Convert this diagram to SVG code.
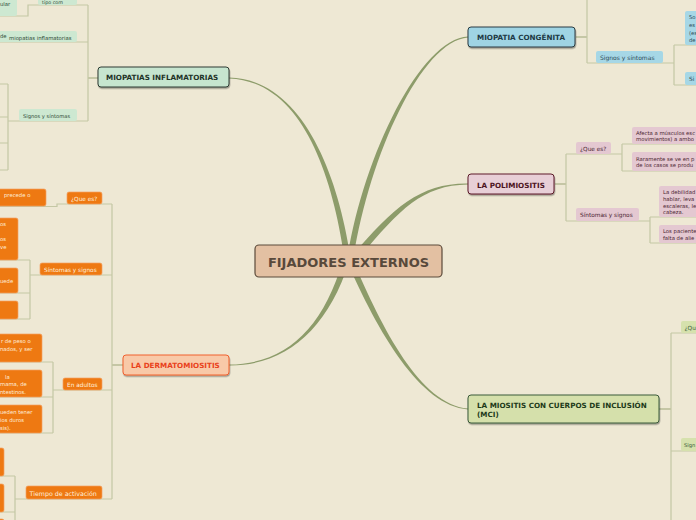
<svg xmlns="http://www.w3.org/2000/svg" width="696" height="520" viewBox="0 0 696 520">
<defs>
<filter id="sh" x="-10%" y="-30%" width="120%" height="180%"><feDropShadow dx="0.6" dy="1.4" stdDeviation="0.5" flood-color="#000" flood-opacity="0.35"/></filter>
<style>
text{font-family:"DejaVu Sans",Verdana,sans-serif}
.main{font-size:7.2px;font-weight:bold}
.sub{font-size:5.8px}
.leaf{font-size:5.3px}
.ln{fill:none;stroke:#c4c7a4;stroke-width:1.2}
.tr{fill:none;stroke:#aab086;stroke-width:1.2}
.br{fill:#8d9c6a}
.gS{fill:#cde8d1}.gT{fill:#2e4a36}
.oS{fill:#ee7912;stroke:#f3a062;stroke-width:0.7}.oT{fill:#fff0de}
.bS{fill:#a6d7e6}.bT{fill:#2c4955}
.pS{fill:#e4c8d1}.pT{fill:#4a2430}
.mS{fill:#d6e1ad}.mT{fill:#3a5a36}
</style>
</defs>
<rect width="696" height="520" fill="#eee8d4"/>
<g id="connectors">
<path class="br" d="M351,261 C338,170 300,79 229,77.6 L229,78.4 C300,81 332,170 345,261 Z"/>
<path class="br" d="M353,261 C368,160 420.5,41 468,37.4 L468,36.6 C419.5,39 362,160 347,261 Z"/>
<path class="br" d="M354.5,263 C397.5,212 420,185 468,184.4 L468,183.6 C420,183 392.5,208 349.5,259 Z"/>
<path class="br" d="M352.8,260 C382.5,329 420,404 468,408.6 L468,409.4 C420,406 377.5,331 347.2,262 Z"/>
<path class="br" d="M349,262 C327.5,330 285,366 229,365.4 L229,364.6 C285,364 322.5,330 343,260 Z"/>
<path class="tr" d="M98,78 H88"/>
<path class="ln" d="M88,5 V121 M88,5 H38 M38,5 H28 V16 H0 M88,42 H0 M88,121 H8 M8,84 V170 M8,84 H0 M8,117 H0 M8,143 H0 M8,170 H0"/>
<path class="tr" d="M123,365 H112"/>
<path class="ln" d="M112,204 V499 M112,204 H57 V206.5 H0 M112,275 H30 M30,260 V319 M30,260 H0 M30,293 H0 M30,319 H0 M112,390 H53 M53,362 V433 M53,362 H0 M53,397 H0 M53,433 H0 M112,499 H15 M15,476 V520 M15,476 H0 M15,512 H0"/>
<path class="tr" d="M576,37 H587"/>
<path class="ln" d="M587,0 V63 M587,63 H674 M674,45 V85 M674,45 H696 M674,85 H696"/>
<path class="tr" d="M555,184 H566"/>
<path class="ln" d="M566,154 V221 M566,154 H622 M622,144 V171 M622,144 H696 M622,171 H696 M566,221 H650 M650,217 V243 M650,217 H696 M650,243 H696"/>
<path class="tr" d="M659,409 H671"/>
<path class="ln" d="M671,333 V520 M671,333 H696 M671,451 H696"/>
</g>
<g id="center">
<rect x="255" y="245" width="187" height="32" rx="4" fill="#e3c0a2" stroke="#5b4a3a" stroke-width="1.2"/>
<text x="348.5" y="266.5" text-anchor="middle" font-size="13" font-weight="bold" fill="#58493b">FIJADORES EXTERNOS</text>
</g>
<g id="miopatias-inflamatorias">
<rect x="98" y="67" width="131" height="20" rx="3" fill="#c6e5cf" stroke="#2f3b33" filter="url(#sh)"/>
<text class="main" x="106" y="80" fill="#1e3328">MIOPATIAS INFLAMATORIAS</text>
</g>
<g id="mi-tipo">
<rect class="gS" x="38" y="-6" width="39" height="11" rx="2"/>
<text class="gT" font-size="4.8" x="42" y="4">tipo com</text>
</g>
<g id="mi-ular">
<rect class="gS" x="-20" y="-10" width="37" height="26" rx="2"/>
<text class="leaf gT" x="0" y="6">ular</text>
</g>
<g id="mi-clasif">
<rect class="gS" x="-30" y="31" width="107" height="11" rx="2"/>
<text class="leaf gT" x="0" y="38">de</text>
<text class="leaf gT" x="9" y="39.5">miopatias inflamatorias</text>
</g>
<g id="mi-signos">
<rect class="gS" x="19" y="109" width="58" height="12" rx="2"/>
<text class="gT" font-size="5.2" x="23" y="117.5">Signos y síntomas</text>
</g>
<g id="dermatomiositis">
<rect x="123" y="355" width="106" height="20" rx="3" fill="#f8c9a8" stroke="#f0602e" filter="url(#sh)"/>
<text class="main" x="131" y="368" fill="#e9411b">LA DERMATOMIOSITIS</text>
</g>
<g id="dm-quees">
<rect class="oS" x="67" y="192" width="35" height="12" rx="2"/>
<text class="sub oT" x="71" y="200.5">¿Que es?</text>
</g>
<g id="dm-precede">
<rect class="oS" x="-30" y="189" width="76" height="17" rx="2"/>
<text class="leaf oT" x="4" y="197">precede o</text>
</g>
<g id="dm-sintomas">
<rect class="oS" x="40" y="263" width="62" height="12" rx="2"/>
<text class="sub oT" x="44" y="271.5">Síntomas y signos</text>
</g>
<g id="dm-s1">
<rect class="oS" x="-30" y="218" width="48" height="42" rx="2"/>
<text class="leaf oT" x="0" y="226">os</text>
<text class="leaf oT" x="0" y="241">os</text>
<text class="leaf oT" x="0" y="249">ve</text>
</g>
<g id="dm-s2">
<rect class="oS" x="-30" y="268" width="48" height="25" rx="2"/>
<text class="leaf oT" x="0" y="283">uede</text>
</g>
<g id="dm-s3">
<rect class="oS" x="-30" y="301" width="48" height="18" rx="2"/>
</g>
<g id="dm-adultos">
<rect class="oS" x="63" y="378" width="39" height="12" rx="2"/>
<text class="sub oT" x="67" y="386.5">En adultos</text>
</g>
<g id="dm-a1">
<rect class="oS" x="-30" y="334" width="72" height="28" rx="2"/>
<text class="leaf oT" x="1" y="343">r de peso o</text>
<text class="leaf oT" x="0" y="351">nados, y ser</text>
</g>
<g id="dm-a2">
<rect class="oS" x="-30" y="370" width="72" height="27" rx="2"/>
<text class="leaf oT" x="5" y="379">la</text>
<text class="leaf oT" x="0" y="386">mama, de</text>
<text class="leaf oT" x="0" y="394">ntestinos.</text>
</g>
<g id="dm-a3">
<rect class="oS" x="-30" y="405" width="72" height="28" rx="2"/>
<text class="leaf oT" x="0" y="414">ueden tener</text>
<text class="leaf oT" x="0" y="422">ios duros</text>
<text class="leaf oT" x="0" y="430">sis).</text>
</g>
<g id="dm-tiempo">
<rect class="oS" x="26" y="486" width="76" height="13" rx="2"/>
<text class="oT" font-size="6.3" x="29.5" y="495.5">Tiempo de activación</text>
</g>
<g id="dm-t1"><rect class="oS" x="-30" y="448" width="34" height="28" rx="2"/></g>
<g id="dm-t2"><rect class="oS" x="-30" y="484" width="34" height="28" rx="2"/></g>
<g id="dm-t3"><rect class="oS" x="-30" y="519" width="34" height="10" rx="2"/></g>
<g id="miopatia-congenita">
<rect x="468" y="27" width="107" height="20" rx="3" fill="#9fd4e4" stroke="#2a3a40" filter="url(#sh)"/>
<text class="main" x="477" y="40" fill="#213a45">MIOPATIA CONGÉNITA</text>
</g>
<g id="mc-signos">
<rect class="bS" x="596" y="51" width="67" height="12" rx="2"/>
<text class="bT" font-size="6" x="600" y="59.5">Signos y síntomas</text>
</g>
<g id="mc-s1">
<rect class="bS" x="685" y="11" width="30" height="34" rx="2"/>
<text class="leaf bT" x="689" y="19">So</text>
<text class="leaf bT" x="689" y="27">es</text>
<text class="leaf bT" x="689" y="35">(es</text>
<text class="leaf bT" x="689" y="42">de</text>
</g>
<g id="mc-s2">
<rect class="bS" x="685" y="72" width="30" height="13" rx="2"/>
<text class="bT" font-size="5.8" x="689" y="81">Si</text>
</g>
<g id="polimiositis">
<rect x="468" y="174" width="86" height="20" rx="3" fill="#e8cfd7" stroke="#5c1a28" filter="url(#sh)"/>
<text class="main" x="477" y="187.5" fill="#4d1422">LA POLIMIOSITIS</text>
</g>
<g id="pm-quees">
<rect class="pS" x="576" y="142" width="35" height="12" rx="2"/>
<text class="sub pT" x="580" y="150.5">¿Que es?</text>
</g>
<g id="pm-q1">
<rect class="pS" x="632" y="127" width="80" height="17" rx="2"/>
<text class="leaf pT" x="636" y="134.5">Afecta a músculos esc</text>
<text class="leaf pT" x="636" y="141">movimientos) a ambo</text>
</g>
<g id="pm-q2">
<rect class="pS" x="632" y="152" width="80" height="19" rx="2"/>
<text class="leaf pT" x="636" y="160.5">Raramente se ve en p</text>
<text class="leaf pT" x="636" y="167">de los casos se produ</text>
</g>
<g id="pm-sintomas">
<rect class="pS" x="576" y="208" width="63" height="13" rx="2"/>
<text class="sub pT" x="580" y="217">Síntomas y signos</text>
</g>
<g id="pm-s1">
<rect class="pS" x="659" y="186" width="50" height="31" rx="2"/>
<text class="leaf pT" x="663" y="194">La debilidad</text>
<text class="leaf pT" x="663" y="201">hablar, leva</text>
<text class="leaf pT" x="663" y="207.5">escaleras, le</text>
<text class="leaf pT" x="663" y="214">cabeza.</text>
</g>
<g id="pm-s2">
<rect class="pS" x="659" y="225" width="50" height="18" rx="2"/>
<text class="leaf pT" x="663" y="233">Los paciente</text>
<text class="leaf pT" x="663" y="239.5">falta de alie</text>
</g>
<g id="mci">
<rect x="468" y="395" width="191" height="28" rx="3" fill="#d5e0ab" stroke="#3a5a3a" filter="url(#sh)"/>
<text class="main" x="477" y="408" fill="#1d3a1a">LA MIOSITIS CON CUERPOS DE INCLUSIÓN</text>
<text class="main" x="477" y="416.5" fill="#1d3a1a">(MCI)</text>
</g>
<g id="mci-quees">
<rect class="mS" x="681" y="321" width="30" height="12" rx="2"/>
<text class="sub mT" x="684.5" y="329.5">¿Qu</text>
</g>
<g id="mci-signos">
<rect class="mS" x="681" y="438" width="30" height="13" rx="2"/>
<text class="mT" font-size="5.2" x="684" y="447">Sign</text>
</g>
</svg>
